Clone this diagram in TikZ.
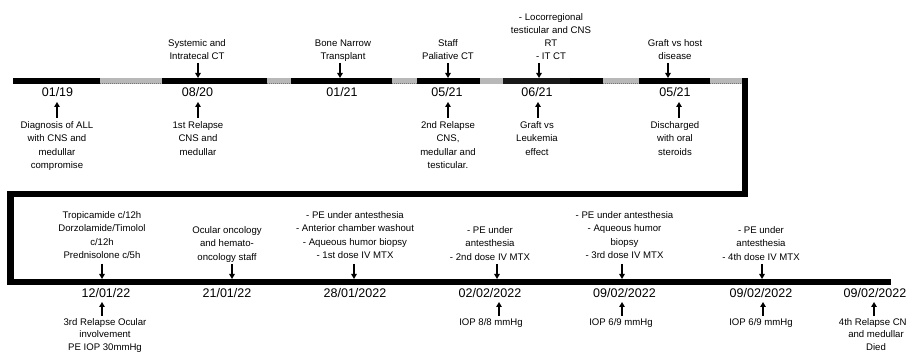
\documentclass[tikz,border=0pt]{standalone}
\usepackage{fontspec}
\setmainfont{Liberation Sans}
\usetikzlibrary{arrows.meta}
\tikzset{
 lbl/.style={align=center, inner sep=0pt, anchor=north, font=\fontsize{9.6}{13.2}\selectfont},
 lblb/.style={align=center, inner sep=0pt, anchor=north, font=\fontsize{9.6}{12.8}\selectfont},
 datelbl/.style={inner sep=0pt, anchor=base, font=\fontsize{12.5}{14}\selectfont},
 arr/.style={line width=1.6pt, -{Triangle[width=5.5pt,length=5pt]}},
 blackseg/.style={fill=black},
 grayseg/.style={fill=black!28},
 dots/.style={draw=black!55, line width=0.8pt, dash pattern=on 0.8pt off 1.2pt},
 frame/.style={line width=6.5pt, line join=miter}
}
\begin{document}
\begin{tikzpicture}[x=1pt,y=-1pt]
\useasboundingbox (0,0) rectangle (906,352);
\clip (0,0) rectangle (906,352);
% ---------- top timeline bar ----------
\fill[blackseg] (13,78) rectangle (100,84);
\fill[grayseg] (100,78) rectangle (162,84); \draw[dots] (100,83.3) -- (162,83.3);
\fill[blackseg] (162,78) rectangle (267,84);
\fill[grayseg] (267,78) rectangle (291,84); \draw[dots] (267,83.3) -- (291,83.3);
\fill[blackseg] (291,78) rectangle (392,84);
\fill[grayseg] (392,78) rectangle (417,84); \draw[dots] (392,83.3) -- (417,83.3);
\fill[blackseg] (417,78) rectangle (480,84);
\fill[grayseg] (480,78) rectangle (503,84);
\fill[fill=black!90] (503,78) rectangle (570,84);
\fill[blackseg] (570,78) rectangle (603,84);
\fill[grayseg] (603,78) rectangle (639,84); \draw[dots] (603,83.3) -- (639,83.3);
\fill[blackseg] (639,78) rectangle (710,84);
\fill[grayseg] (710,78) rectangle (743,84); \draw[dots] (710,83.3) -- (743,83.3);
% ---------- frame and bottom timeline ----------
\coordinate (f1) at (745,78);
\coordinate (f2) at (745,194);
\coordinate (f3) at (10.5,194);
\coordinate (f4) at (10.5,282);
\coordinate (f5) at (891,282);
\draw[frame] (f1) -- (f2) -- (f3) -- (f4) -- (f5);
% ---------- top row events ----------
% E1
\node[datelbl] (d1) at (57.5,96.7) {01/19};
\coordinate (u1s) at (57,118); \coordinate (u1e) at (57,102);
\draw[arr] (u1s) -- (u1e);
\node[lbl] (b1) at (57,121.5) {Diagnosis of ALL\\with CNS and\\medullar\\compromise};
% E2
\node[lbl] (a2) at (197,39.5) {Systemic and\\Intratecal CT};
\coordinate (v2s) at (198,63); \coordinate (v2e) at (198,78);
\draw[arr] (v2s) -- (v2e);
\node[datelbl] (d2) at (197.5,96.7) {08/20};
\coordinate (u2s) at (198,118); \coordinate (u2e) at (198,102);
\draw[arr] (u2s) -- (u2e);
\node[lbl] (b2) at (198,121.5) {1st Relapse\\CNS and\\medullar};
% E3
\node[lbl] (a3) at (343,39.5) {Bone Narrow\\Transplant};
\coordinate (v3s) at (340,63); \coordinate (v3e) at (340,78);
\draw[arr] (v3s) -- (v3e);
\node[datelbl] (d3) at (342,96.7) {01/21};
% E4
\node[lbl] (a4) at (448,39.5) {Staff\\Paliative CT};
\coordinate (v4s) at (448,63); \coordinate (v4e) at (448,78);
\draw[arr] (v4s) -- (v4e);
\node[datelbl] (d4) at (447,96.7) {05/21};
\coordinate (u4s) at (448,118); \coordinate (u4e) at (448,102);
\draw[arr] (u4s) -- (u4e);
\node[lbl] (b4) at (448,121.5) {2nd Relapse\\CNS,\\medullar and\\testicular.};
% E5
\node[lbl] (a5) at (551,13) {- Locorregional\\testicular and CNS\\RT\\- IT CT};
\coordinate (v5s) at (539,63); \coordinate (v5e) at (539,78);
\draw[arr] (v5s) -- (v5e);
\node[datelbl] (d5) at (537,96.7) {06/21};
\coordinate (u5s) at (538,118); \coordinate (u5e) at (538,102);
\draw[arr] (u5s) -- (u5e);
\node[lbl] (b5) at (537,121.5) {Graft vs\\Leukemia\\effect};
% E6
\node[lbl] (a6) at (675,39.5) {Graft vs host\\disease};
\coordinate (v6s) at (668,63); \coordinate (v6e) at (668,78);
\draw[arr] (v6s) -- (v6e);
\node[datelbl] (d6) at (675,96.7) {05/21};
\coordinate (u6s) at (679,118); \coordinate (u6e) at (679,102);
\draw[arr] (u6s) -- (u6e);
\node[lbl] (b6) at (675,121.5) {Discharged\\with oral\\steroids};
% ---------- bottom row events ----------
% B1
\node[lbl] (p1) at (102,211.5) {Tropicamide c/12h\\Dorzolamide/Timolol\\c/12h\\Prednisolone c/5h};
\coordinate (w1s) at (102,264); \coordinate (w1e) at (102,279);
\draw[arr] (w1s) -- (w1e);
\node[datelbl] (q1) at (106,298) {12/01/22};
\coordinate (x1s) at (102,316); \coordinate (x1e) at (102,302);
\draw[arr] (x1s) -- (x1e);
\node[lblb] (r1) at (105,318) {3rd Relapse Ocular\\involvement\\PE IOP 30mmHg};
% B2
\node[lbl] (p2) at (227,226.5) {Ocular oncology\\and hemato-\\oncology staff};
\coordinate (w2s) at (232,264); \coordinate (w2e) at (232,279);
\draw[arr] (w2s) -- (w2e);
\node[datelbl] (q2) at (227,298) {21/01/22};
% B3
\node[lbl] (p3) at (355,211.5) {- PE under antesthesia\\- Anterior chamber washout\\- Aqueous humor biopsy\\- 1st dose IV MTX};
\coordinate (w3s) at (354,264); \coordinate (w3e) at (354,279);
\draw[arr] (w3s) -- (w3e);
\node[datelbl] (q3) at (355,298) {28/01/2022};
% B4
\node[lbl] (p4) at (490,226.5) {- PE under\\antesthesia\\- 2nd dose IV MTX};
\coordinate (w4s) at (497,264); \coordinate (w4e) at (497,279);
\draw[arr] (w4s) -- (w4e);
\node[datelbl] (q4) at (490,298) {02/02/2022};
\coordinate (x4s) at (499,316); \coordinate (x4e) at (499,302);
\draw[arr] (x4s) -- (x4e);
\node[lblb] (r4) at (491,318) {IOP 8/8 mmHg};
% B5
\node[lbl] (p5) at (624.5,211.5) {- PE under antesthesia\\- Aqueous humor\\biopsy\\- 3rd dose IV MTX};
\coordinate (w5s) at (622,264); \coordinate (w5e) at (622,279);
\draw[arr] (w5s) -- (w5e);
\node[datelbl] (q5) at (624.5,298) {09/02/2022};
\coordinate (x5s) at (622,316); \coordinate (x5e) at (622,302);
\draw[arr] (x5s) -- (x5e);
\node[lblb] (r5) at (621,318) {IOP 6/9 mmHg};
% B6
\node[lbl] (p6) at (761,226.5) {- PE under\\antesthesia\\- 4th dose IV MTX};
\coordinate (w6s) at (762,264); \coordinate (w6e) at (762,279);
\draw[arr] (w6s) -- (w6e);
\node[datelbl] (q6) at (761,298) {09/02/2022};
\coordinate (x6s) at (763,316); \coordinate (x6e) at (763,302);
\draw[arr] (x6s) -- (x6e);
\node[lblb] (r6) at (761,318) {IOP 6/9 mmHg};
% B7
\node[datelbl] (q7) at (875,298) {09/02/2022};
\coordinate (x7s) at (874,316); \coordinate (x7e) at (874,302);
\draw[arr] (x7s) -- (x7e);
\node[lblb] (r7) at (876,318) {4th Relapse CNS\\and medullar\\Died};
\end{tikzpicture}
\end{document}
